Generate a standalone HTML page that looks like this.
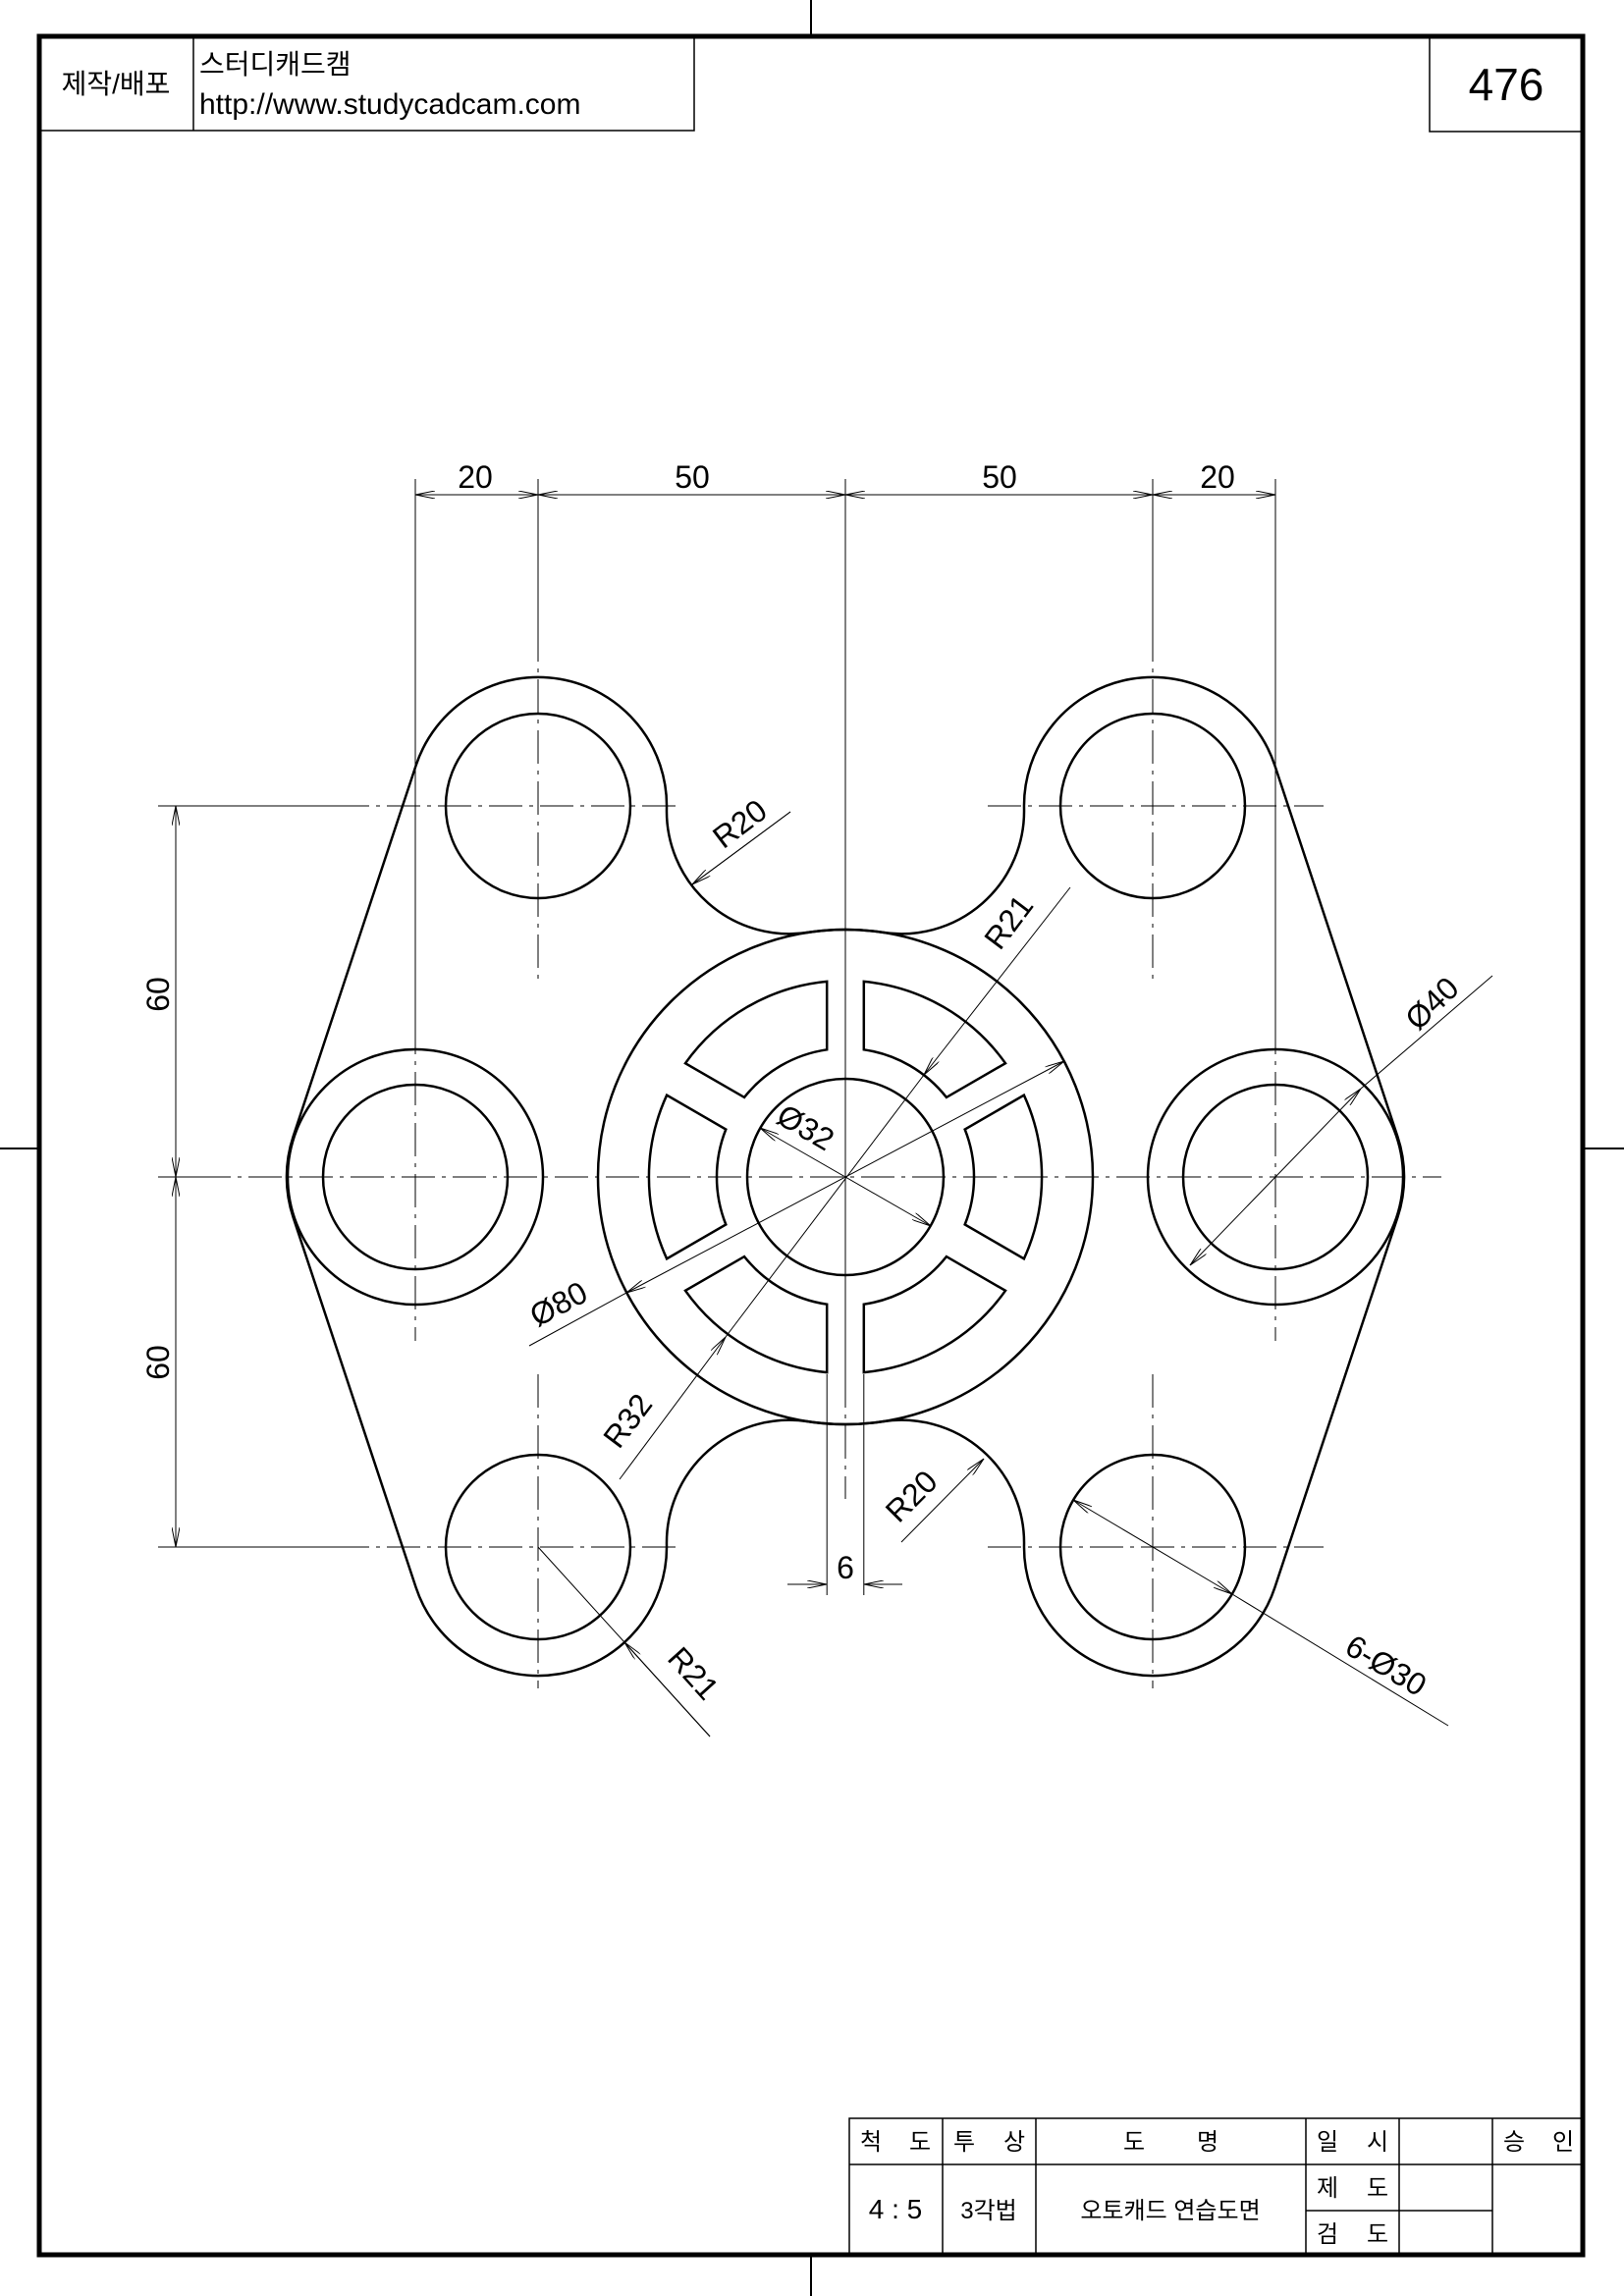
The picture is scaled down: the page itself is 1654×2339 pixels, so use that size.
<!DOCTYPE html>
<html><head><meta charset="utf-8"><style>
html,body{margin:0;padding:0;background:#fff}
svg{display:block}
text{font-family:"Liberation Sans","Noto Sans CJK KR",sans-serif;fill:#000}
</style></head><body>
<svg width="1654" height="2339" viewBox="0 0 1654 2339" xmlns="http://www.w3.org/2000/svg">
<defs>
<marker id="a" viewBox="0 0 20 8" refX="20" refY="4" markerWidth="20" markerHeight="8" markerUnits="userSpaceOnUse" orient="auto-start-reverse">
<path d="M0,0 L20,4 L0,8" fill="none" stroke="#000" stroke-width="1"/></marker>
</defs>
<!-- frame -->
<rect x="40" y="37" width="1572" height="2260" fill="none" stroke="#000" stroke-width="5"/>
<g stroke="#000" stroke-width="2">
<line x1="826" y1="0" x2="826" y2="37"/><line x1="826" y1="2297" x2="826" y2="2339"/>
<line x1="0" y1="1170" x2="40" y2="1170"/><line x1="1612" y1="1170" x2="1654" y2="1170"/>
</g>
<!-- header -->
<g stroke="#000" stroke-width="1.5" fill="none">
<polyline points="40,133 707,133 707,37"/><line x1="197" y1="37" x2="197" y2="133"/>
<polyline points="1456,37 1456,134 1612,134"/>
</g>
<text x="118" y="95" font-size="28" text-anchor="middle">제작/배포</text>
<text x="203" y="75" font-size="28">스터디캐드캠</text>
<text x="203" y="116" font-size="30">http://www.studycadcam.com</text>
<text x="1534" y="102" font-size="46" text-anchor="middle">476</text>
<!-- title block -->
<g stroke="#000" stroke-width="1.5" fill="none">
<polyline points="865,2297 865,2158 1612,2158"/>
<line x1="865" y1="2205" x2="1612" y2="2205"/>
<line x1="1330" y1="2252" x2="1520" y2="2252"/>
<line x1="960" y1="2158" x2="960" y2="2297"/><line x1="1055" y1="2158" x2="1055" y2="2297"/>
<line x1="1330" y1="2158" x2="1330" y2="2297"/><line x1="1425" y1="2158" x2="1425" y2="2297"/>
<line x1="1520" y1="2158" x2="1520" y2="2297"/>
</g>
<g font-size="24" text-anchor="middle">
<text x="887" y="2190">척</text><text x="937" y="2190">도</text>
<text x="982" y="2190">투</text><text x="1033" y="2190">상</text>
<text x="1155" y="2190">도</text><text x="1230" y="2190">명</text>
<text x="1352" y="2190">일</text><text x="1403" y="2190">시</text>
<text x="1542" y="2190">승</text><text x="1592" y="2190">인</text>
<text x="1352" y="2237">제</text><text x="1403" y="2237">도</text>
<text x="1352" y="2284">검</text><text x="1403" y="2284">도</text>
<text x="912" y="2260" font-size="28">4 : 5</text>
<text x="1007" y="2260">3각법</text>
<text x="1192" y="2260">오토캐드 연습도면</text>
</g>
<!-- centerlines dash-dot -->
<g stroke="#000" stroke-width="1" stroke-dasharray="34 7 4 7" fill="none">
<line x1="238" y1="821" x2="693" y2="821"/><line x1="1006" y1="821" x2="1348" y2="821"/>
<line x1="238" y1="1576" x2="693" y2="1576"/><line x1="1006" y1="1576" x2="1348" y2="1576"/>
<line x1="201" y1="1199" x2="1468" y2="1199"/>
<line x1="548" y1="640" x2="548" y2="1000"/><line x1="548" y1="1400" x2="548" y2="1720"/>
<line x1="1174" y1="640" x2="1174" y2="1000"/><line x1="1174" y1="1400" x2="1174" y2="1720"/>
<line x1="423" y1="1040" x2="423" y2="1366"/><line x1="1299" y1="1040" x2="1299" y2="1366"/>
<line x1="861" y1="1400" x2="861" y2="1527"/>
</g>
<!-- thin extension lines -->
<g stroke="#000" stroke-width="1" fill="none">
<line x1="423" y1="488" x2="423" y2="1040"/><line x1="1299" y1="488" x2="1299" y2="1040"/>
<line x1="548" y1="488" x2="548" y2="640"/><line x1="1174" y1="488" x2="1174" y2="640"/>
<line x1="861" y1="488" x2="861" y2="1400"/>
<line x1="161" y1="821" x2="360" y2="821"/><line x1="161" y1="1576" x2="360" y2="1576"/>
<line x1="161" y1="1199" x2="201" y2="1199"/>
<line x1="842.2" y1="1400" x2="842.2" y2="1625"/><line x1="879.8" y1="1400" x2="879.8" y2="1625"/>
</g>
<!-- dimension lines -->
<g stroke="#000" stroke-width="1" fill="none">
<line x1="423" y1="504" x2="548" y2="504" marker-start="url(#a)" marker-end="url(#a)"/>
<line x1="548" y1="504" x2="861" y2="504" marker-start="url(#a)" marker-end="url(#a)"/>
<line x1="861" y1="504" x2="1174" y2="504" marker-start="url(#a)" marker-end="url(#a)"/>
<line x1="1174" y1="504" x2="1299" y2="504" marker-start="url(#a)" marker-end="url(#a)"/>
<line x1="179" y1="821" x2="179" y2="1199" marker-start="url(#a)" marker-end="url(#a)"/>
<line x1="179" y1="1199" x2="179" y2="1576" marker-start="url(#a)" marker-end="url(#a)"/>
<line x1="802" y1="1614" x2="842.2" y2="1614" marker-end="url(#a)"/>
<line x1="919" y1="1614" x2="879.8" y2="1614" marker-end="url(#a)"/>
<line x1="805" y1="827" x2="705" y2="901" marker-end="url(#a)"/>
<line x1="805" y1="827" x2="805" y2="827"/>
<line x1="705" y1="901" x2="805" y2="827"/>
<line x1="631" y1="1507" x2="739" y2="1362" marker-end="url(#a)"/>
<line x1="739" y1="1362" x2="941" y2="1095"/>
<line x1="1090" y1="904" x2="941" y2="1095" marker-end="url(#a)"/>
<line x1="1520" y1="994" x2="1386" y2="1109"/>
<line x1="1212" y1="1289" x2="1386" y2="1109" marker-start="url(#a)" marker-end="url(#a)"/>
<line x1="774" y1="1149" x2="948" y2="1249" marker-start="url(#a)" marker-end="url(#a)"/>
<line x1="539" y1="1371" x2="638" y2="1317"/>
<line x1="638" y1="1317" x2="1084" y2="1081" marker-start="url(#a)" marker-end="url(#a)"/>
<line x1="918" y1="1571" x2="1002" y2="1486" marker-end="url(#a)"/>
<line x1="548" y1="1576" x2="723" y2="1769"/>
<line x1="723" y1="1769" x2="636" y2="1673" marker-end="url(#a)"/>
<line x1="1093" y1="1528" x2="1255" y2="1624" marker-start="url(#a)" marker-end="url(#a)"/>
<line x1="1255" y1="1624" x2="1475" y2="1758"/>
</g>
<!-- dim texts -->
<g font-size="32">
<text x="484" y="497" text-anchor="middle">20</text>
<text x="705" y="497" text-anchor="middle">50</text>
<text x="1018" y="497" text-anchor="middle">50</text>
<text x="1240" y="497" text-anchor="middle">20</text>
<text transform="translate(172,1013) rotate(-90)" text-anchor="middle">60</text>
<text transform="translate(172,1388) rotate(-90)" text-anchor="middle">60</text>
<text x="861" y="1608" text-anchor="middle">6</text>
<text transform="translate(760,848) rotate(-37)" text-anchor="middle">R20</text>
<text transform="translate(1036,946) rotate(-53)" text-anchor="middle">R21</text>
<text transform="translate(1466,1030) rotate(-44)" text-anchor="middle">Ø40</text>
<text transform="translate(815,1158) rotate(30)" text-anchor="middle">Ø32</text>
<text transform="translate(574,1338) rotate(-28)" text-anchor="middle">Ø80</text>
<text transform="translate(648,1454) rotate(-53)" text-anchor="middle">R32</text>
<text transform="translate(936,1532) rotate(-45)" text-anchor="middle">R20</text>
<text transform="translate(698,1712) rotate(48)" text-anchor="middle">R21</text>
<text transform="translate(1406,1706) rotate(31)" text-anchor="middle">6-Ø30</text>
</g>
<!-- part geometry -->
<g stroke="#000" stroke-width="2.5" fill="none">
<path d="M423.6,779.9 A131,131 0 0 1 679,823.8 A125,125 0 0 0 822.8,949.9 A252,252 0 0 1 899.2,949.9 A125,125 0 0 0 1043,823.8 A131,131 0 0 1 1298.4,779.9 L1423.4,1157.9 A130,130 0 0 1 1423.4,1240.1 L1298.4,1617.1 A131,131 0 0 1 1043,1574.2 A125,125 0 0 0 899.2,1448.1 A252,252 0 0 1 822.8,1448.1 A125,125 0 0 0 679,1574.2 A131,131 0 0 1 423.6,1617.1 L298.6,1240.1 A130,130 0 0 1 298.6,1157.9 Z"/>
<circle cx="548" cy="821" r="94"/><circle cx="1174" cy="821" r="94"/>
<circle cx="548" cy="1576" r="94"/><circle cx="1174" cy="1576" r="94"/>
<circle cx="423" cy="1199" r="94"/><circle cx="1299" cy="1199" r="94"/>
<circle cx="423" cy="1199" r="130"/><circle cx="1299" cy="1199" r="130"/>
<circle cx="861" cy="1199" r="252"/>
<circle cx="861" cy="1199" r="100"/>
<path d="M879.8,999.9 A200,200 0 0 1 1024,1083.2 L963.9,1117.9 A131,131 0 0 0 879.8,1069.3 Z"/>
<path d="M698,1083.2 A200,200 0 0 1 842.2,999.9 L842.2,1069.3 A131,131 0 0 0 758.1,1117.9 Z"/>
<path d="M679.1,1282.3 A200,200 0 0 1 679.1,1115.7 L739.3,1150.5 A131,131 0 0 0 739.3,1247.5 Z"/>
<path d="M842.2,1398.1 A200,200 0 0 1 698,1314.8 L758.1,1280.1 A131,131 0 0 0 842.2,1328.7 Z"/>
<path d="M1024,1314.8 A200,200 0 0 1 879.8,1398.1 L879.8,1328.7 A131,131 0 0 0 963.9,1280.1 Z"/>
<path d="M1042.9,1115.7 A200,200 0 0 1 1042.9,1282.3 L982.7,1247.5 A131,131 0 0 0 982.7,1150.5 Z"/>
</g>
</svg>
</body></html>
